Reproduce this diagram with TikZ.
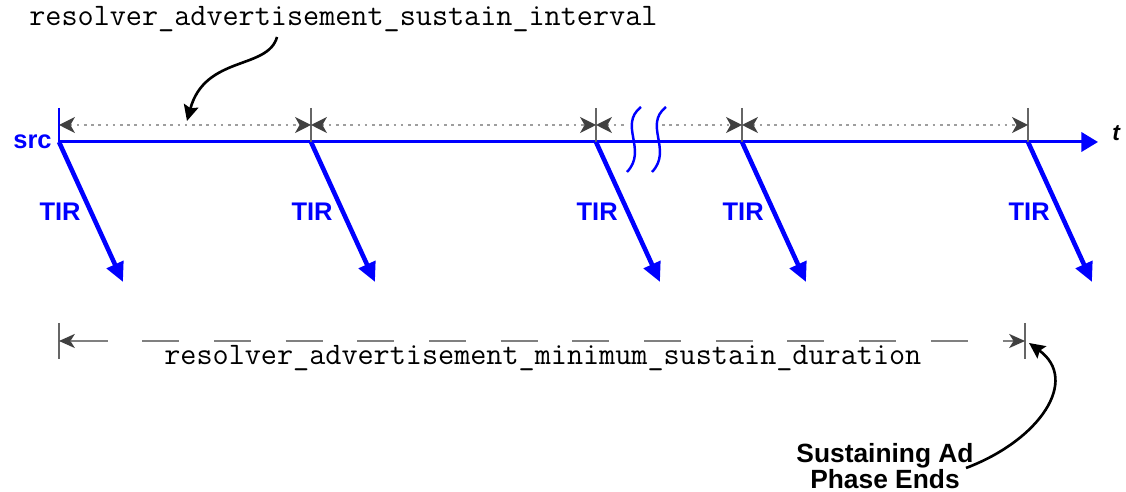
\documentclass[tikz,border=0pt]{standalone}
\usepackage{fontspec}
\setmainfont{Liberation Sans}
\usetikzlibrary{arrows,arrows.meta}

\begin{document}
\begin{tikzpicture}[x=0.02cm,y=-0.02cm,
	tline/.style={draw=blue,line width=1.7pt,-{Triangle[length=9.5pt,width=11pt]}},
	tirarrow/.style={draw=blue,line width=2.6pt,-{Triangle[length=11pt,width=10pt]}},
	tirlabel/.style={text=blue,font=\bfseries\fontsize{14.5}{16}\selectfont,inner sep=4.6pt,left,pos=0.5},
	tickmark/.style={draw=black!60,line width=0.9pt},
	dim/.style={draw=black!38,line width=1.5pt,dash pattern=on 1.5pt off 2.6pt,>={Stealth[length=9pt,width=9pt,inset=2.5pt,color=black!75]}},
	duration/.style={draw=black!50,line width=1.1pt,dash pattern=on 21pt off 19.8pt,dash phase=40.3pt,>={Stealth[length=9pt,width=8pt,inset=2.5pt,color=black!75]}},
	codelabel/.style={font=\ttfamily\fontsize{17.8}{20}\selectfont,inner sep=0pt,anchor=base west},
	callout/.style={draw=black,line width=1.5pt,-{Stealth[length=9pt,width=8.5pt,inset=1.5pt]}},
	breakmark/.style={draw=blue,line width=1.4pt}]

\useasboundingbox (0,0) rectangle (1126,492);

% points on the time line
\coordinate (s0) at (59,142);
\coordinate (s1) at (311,142);
\coordinate (s2) at (596,142);
\coordinate (s3) at (742,142);
\coordinate (s4) at (1028,142);
\coordinate (tend) at (1098,142);

% tops of the ticks
\coordinate (k0) at (59,108);
\coordinate (k1) at (311,108);
\coordinate (k2) at (596,108);
\coordinate (k3) at (742,108);
\coordinate (k4) at (1028,108);

% interval arrows
\coordinate (d0) at (59,125);
\coordinate (d1) at (311,125);
\coordinate (d2) at (596,125);
\coordinate (d3) at (742,125);
\coordinate (d4) at (1028,125);
\coordinate (brkL) at (628,125);
\coordinate (brkR) at (662,125);

% ends of the TIR arrows
\coordinate (e0) at (123,282);
\coordinate (e1) at (375,282);
\coordinate (e2) at (660,282);
\coordinate (e3) at (806,282);
\coordinate (e4) at (1092,282);

\draw[tline] (s0) -- (tend);
\node[text=blue,font=\bfseries\fontsize{14.5}{16}\selectfont,anchor=east,inner sep=4pt] (src) at (s0) {src};
\node[font=\bfseries\itshape\fontsize{13}{15}\selectfont,anchor=base west,inner sep=0pt] (t) at ([xshift=8pt,yshift=1pt]tend) {t};

\draw[draw=blue,line width=0.9pt] (k0) -- (s0);
\draw[tickmark] (k1) -- (s1);
\draw[tickmark] (k2) -- (s2);
\draw[tickmark] (k3) -- (s3);
\draw[tickmark] (k4) -- (s4);

\draw[dim,<->] (d0) -- (d1);
\draw[dim,<->] (d1) -- (d2);
\draw[dim,<-] (d2) -- (brkL);
\draw[dim,->] (brkR) -- (d3);
\draw[dim,<->] (d3) -- (d4);

% break in the time line
\draw[breakmark] (641,107) .. controls (618,125) and (648,150) .. (627,172);
\draw[breakmark] (666,107) .. controls (643,125) and (673,150) .. (652,172);

\path (s0) edge[tirarrow] node[tirlabel]{TIR} (e0)
	(s1) edge[tirarrow] node[tirlabel]{TIR} (e1)
	(s2) edge[tirarrow] node[tirlabel]{TIR} (e2)
	(s3) edge[tirarrow] node[tirlabel]{TIR} (e3)
	(s4) edge[tirarrow] node[tirlabel]{TIR} (e4);

% sustain interval
\node[codelabel] (ivl) at (29,26) {resolver\_advertisement\_sustain\_interval};
\coordinate (ivlfoot) at (277,37);
\coordinate (ivlpt) at (187,121);
\draw[callout] (ivlfoot) .. controls (268,70) and (205,55) .. (ivlpt);

% minimum sustain duration
\coordinate (b0) at (59,341);
\coordinate (b1) at (1025,341);
\coordinate (b0t) at (59,323);
\coordinate (b0b) at (59,359);
\coordinate (b1t) at (1025,323);
\coordinate (b1b) at (1025,359);
\draw[tickmark] (b0t) -- (b0b);
\draw[tickmark] (b1t) -- (b1b);
\draw[duration,<->] (b0) -- (b1);
\node[codelabel] (dur) at (164,365) {resolver\_advertisement\_minimum\_sustain\_duration};

\node[font=\bfseries\fontsize{15}{14.7}\selectfont,align=center,anchor=north,inner sep=0pt] (sad) at (885,443) {Sustaining Ad\\Phase Ends};
\coordinate (sadfoot) at (966,468);
\coordinate (endpt) at (1029,343);
\draw[callout] (sadfoot) .. controls (1040,440) and (1080,380) .. (endpt);

\end{tikzpicture}
\end{document}
